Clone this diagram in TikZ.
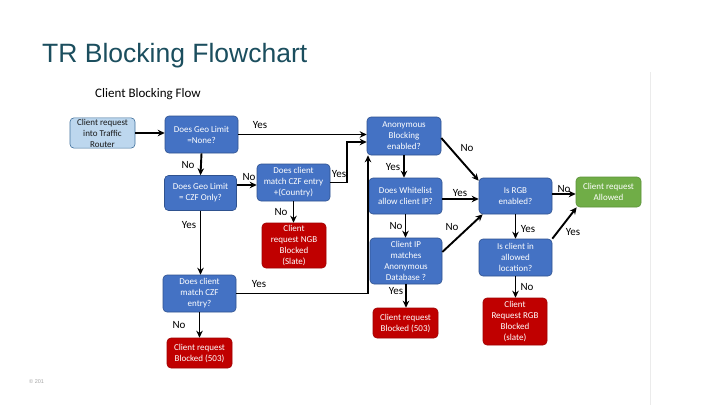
\documentclass[tikz,border=0pt]{standalone}
\usepackage{fontspec}
\setmainfont{Carlito}
\newfontfamily\titlefont{Liberation Sans}
\usetikzlibrary{arrows.meta,calc}
\definecolor{boxblue}{HTML}{4472C4}
\definecolor{boxblueline}{HTML}{2F528F}
\definecolor{boxred}{HTML}{C00000}
\definecolor{boxredline}{HTML}{9E0000}
\definecolor{boxgreen}{HTML}{70AD47}
\definecolor{boxgreenline}{HTML}{5B9237}
\definecolor{boxlight}{HTML}{BDD7EE}
\definecolor{boxlightline}{HTML}{41719C}
\definecolor{titlecol}{HTML}{1B4E5E}
\tikzset{
  fbox/.style={rectangle, rounded corners=4pt, align=center, inner sep=1pt,
    font=\fontsize{9}{11}\selectfont, text=white, line width=0.6pt},
  bluebox/.style={fbox, fill=boxblue, draw=boxblueline},
  redbox/.style={fbox, fill=boxred, draw=boxredline},
  greenbox/.style={fbox, fill=boxgreen, draw=boxgreenline},
  lightbox/.style={fbox, fill=boxlight, draw=boxlightline, text=black!90},
  arr/.style={line width=1.9pt, -{Stealth[length=7pt,width=6.5pt]}},
  lbl/.style={font=\fontsize{11}{13}\selectfont, inner sep=0pt}
}
\begin{document}
\begin{tikzpicture}[x=1pt,y=-1pt]
\useasboundingbox (0,0) rectangle (720,405);
\fill[white] (0,0) rectangle (720,405);
\draw[black!8, line width=0.6pt] (650,72) -- (650,405);
\node[anchor=base west, inner sep=0pt, text=titlecol, font=\titlefont\fontsize{26.5}{30}\selectfont] (title) at (42,62) {TR Blocking Flowchart};
\node[anchor=base west, inner sep=0pt, font=\fontsize{13}{15}\selectfont] (subtitle) at (95,97) {Client Blocking Flow};
\node[anchor=base west, inner sep=0pt, text=black!35, font=\titlefont\fontsize{5.5}{6}\selectfont] (copy) at (29,383) {\textcopyright{} 201};

% nodes
\node[lightbox, minimum width=65pt, minimum height=30pt] (start) at (102.5,133) {Client request\\into Traffic\\Router};
\node[bluebox, minimum width=73pt, minimum height=37pt] (geo1) at (201.5,134.5) {Does Geo Limit\\=None?};
\node[bluebox, minimum width=72pt, minimum height=35pt] (geo2) at (200.5,193) {Does Geo Limit\\= CZF Only?};
\node[bluebox, minimum width=73pt, minimum height=37pt] (czfc) at (293.5,182.5) {Does client\\match CZF entry\\+(Country)};
\node[redbox, minimum width=64pt, minimum height=45pt] (ngb) at (294,245.5) {Client\\request NGB\\Blocked\\(Slate)};
\node[bluebox, minimum width=73pt, minimum height=37pt] (czf2) at (199.5,293.5) {Does client\\match CZF\\entry?};
\node[redbox, minimum width=65pt, minimum height=30pt] (blk1) at (199.5,353) {Client request\\Blocked (503)};
\node[bluebox, minimum width=74pt, minimum height=38pt] (anon) at (404,136) {Anonymous\\Blocking\\enabled?};
\node[bluebox, minimum width=73pt, minimum height=36pt] (wl) at (405.5,196) {Does Whitelist\\allow client IP?};
\node[bluebox, minimum width=72pt, minimum height=46pt] (ip) at (406,261) {Client IP\\matches\\Anonymous\\Database ?};
\node[redbox, minimum width=65pt, minimum height=30pt] (blk2) at (405.5,323) {Client request\\Blocked (503)};
\node[bluebox, minimum width=73pt, minimum height=36pt] (rgb) at (515.5,196) {Is RGB\\enabled?};
\node[greenbox, minimum width=65pt, minimum height=30pt] (allowed) at (608.5,192) {Client request\\Allowed};
\node[bluebox, minimum width=73pt, minimum height=37pt] (loc) at (515.5,257.5) {Is client in\\allowed\\location?};
\node[redbox, minimum width=64pt, minimum height=47pt] (rgbblk) at (515,321.5) {Client\\Request RGB\\Blocked\\(slate)};

\coordinate (j1) at (347,142);
\coordinate (j2) at (368,293.5);

% connectors
\draw[arr] (start.east) -- (start.east -| geo1.west);
\draw[arr] (geo1.east) -- (geo1.east -| anon.west);
\draw[arr] (geo1.south) -- (geo2.north);
\draw[arr] ([yshift=8pt]geo2.east) -- ([yshift=8pt]geo2.east -| czfc.west);
\draw[arr] (czfc.east) -| (j1) -- (j1 -| anon.west);
\draw[arr] (czfc.south) -- (czfc.south |- ngb.north);
\draw[arr] (geo2.south) -- (geo2.south |- czf2.north);
\draw[arr] (czf2.east) -- (j2) -- (j2 |- anon.south);
\draw[arr] (czf2.south) -- (czf2.south |- blk1.north);
\draw[arr] (anon.south) -- (anon.south |- wl.north);
\draw[arr] ([yshift=-2pt]anon.east) -- ([yshift=-3pt]rgb.north west);
\draw[arr] ([yshift=-3pt]wl.east) -- ([yshift=-3pt]wl.east -| rgb.west);
\draw[arr] (wl.south) -- (wl.south |- ip.north);
\draw[arr] ([yshift=9pt]ip.east) -- ([xshift=4pt]rgb.south west);
\draw[arr] (ip.south) -- (ip.south |- blk2.north);
\draw[arr] ([yshift=2pt]rgb.east) -- ([yshift=2pt]rgb.east -| allowed.west);
\draw[arr] (rgb.south) -- (rgb.south |- loc.north);
\draw[arr] (loc.north east) -- ([xshift=1pt]allowed.south west);
\draw[arr] (loc.south) -- (loc.south |- rgbblk.north);

% labels
\node[lbl] (l1) at (260,125) {Yes};
\node[lbl] (l2) at (188,165) {No};
\node[lbl] (l3) at (249,177) {No};
\node[lbl] (l4) at (339,174) {Yes};
\node[lbl] (l5) at (281,212) {No};
\node[lbl] (l6) at (189,225) {Yes};
\node[lbl] (l7) at (259,284) {Yes};
\node[lbl] (l8) at (179,325) {No};
\node[lbl] (l9) at (393,167) {Yes};
\node[lbl] (l10) at (467,148) {No};
\node[lbl] (l11) at (460,193) {Yes};
\node[lbl] (l12) at (396,226) {No};
\node[lbl] (l13) at (452,227) {No};
\node[lbl] (l14) at (396,291) {Yes};
\node[lbl] (l15) at (564,189) {No};
\node[lbl] (l16) at (528,229) {Yes};
\node[lbl] (l17) at (573,232) {Yes};
\node[lbl] (l18) at (527,287) {No};
\end{tikzpicture}
\end{document}
